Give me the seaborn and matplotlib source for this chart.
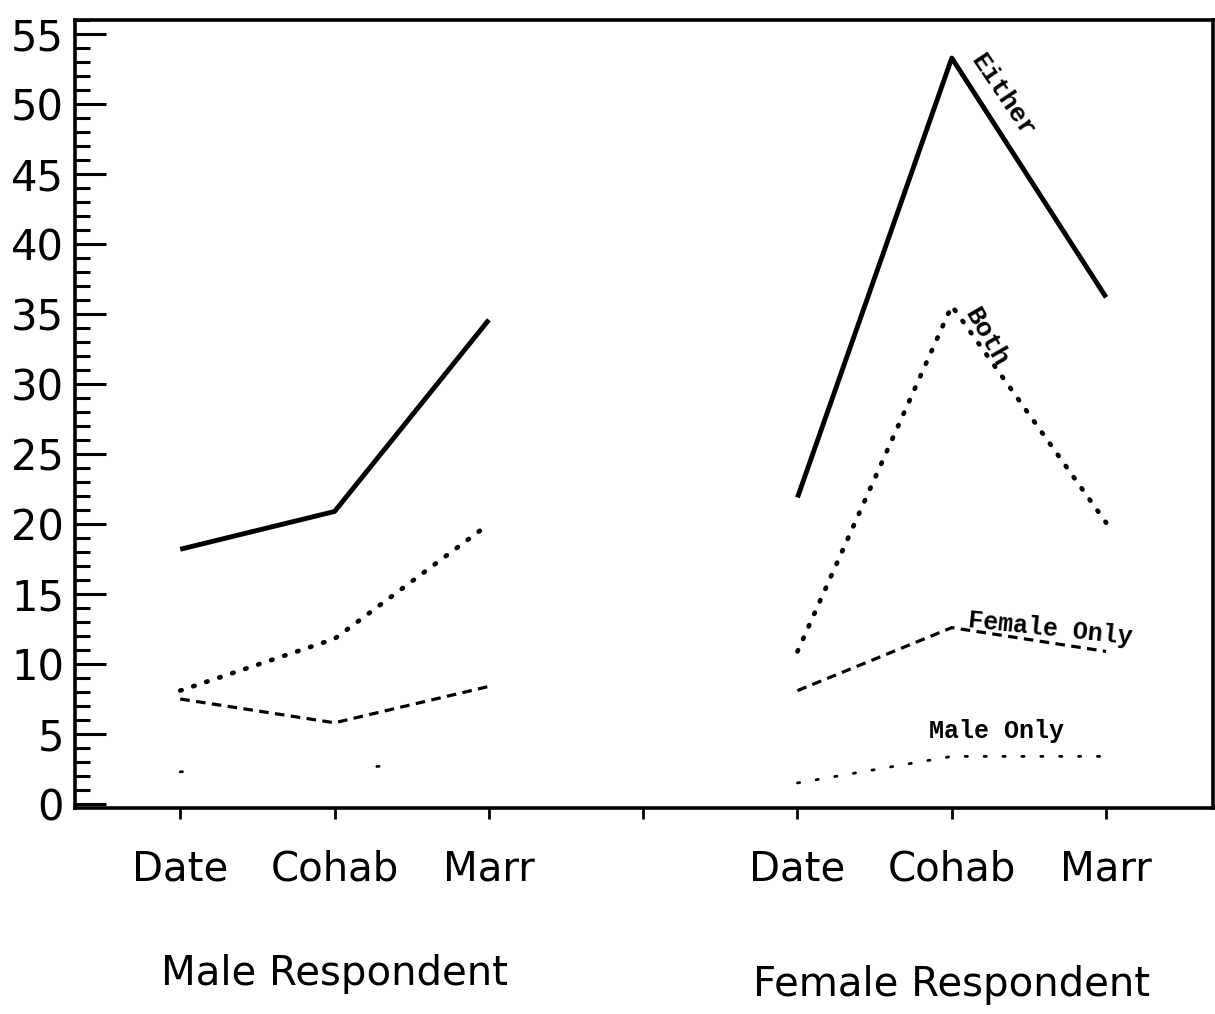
import pandas as pd
import numpy as np
import matplotlib.pyplot as plt
import seaborn as sns
from matplotlib.ticker import MultipleLocator

# values (percent)
stages = ["Date", "Cohab", "Marr"]
male_pos = [1, 2, 3]
female_pos = [5, 6, 7]

male_either = [18.2, 20.9, 34.6]
male_both = [8.1, 11.8, 20.0]
male_female_only = [7.5, 5.8, 8.4]
male_male_only = [2.3, 2.6, 2.9]

female_either = [21.9, 53.3, 36.2]
female_both = [10.9, 35.6, 20.1]
female_female_only = [8.1, 12.6, 10.9]
female_male_only = [1.5, 3.4, 3.4]

styles = {
    "Either": dict(linestyle="-", linewidth=3.5, solid_capstyle="butt"),
    "Both": dict(linestyle=(0, (0.3, 2.6)), linewidth=3.4, dash_capstyle="round"),
    "Female Only": dict(linestyle=(0, (3.0, 2.0)), linewidth=2.3),
    "Male Only": dict(linestyle=(0, (0.8, 6.0)), linewidth=2.0, dash_capstyle="round"),
}

rows = []
for grp, pos, series in [
    ("Male", male_pos, {"Either": male_either, "Both": male_both,
                        "Female Only": male_female_only, "Male Only": male_male_only}),
    ("Female", female_pos, {"Either": female_either, "Both": female_both,
                            "Female Only": female_female_only, "Male Only": female_male_only}),
]:
    for name, vals in series.items():
        for p, v in zip(pos, vals):
            rows.append({"group": grp, "series": name, "x": p, "pct": v})
df = pd.DataFrame(rows)

sns.set_style("ticks")
plt.rcParams['font.family'] = ['DejaVu Sans']
plt.rcParams.update({"text.color": "black", "xtick.color": "black",
                     "ytick.color": "black", "axes.labelcolor": "black"})

fig = plt.figure(figsize=(12.15, 10.14), dpi=100)
ax = fig.add_axes([0.062, 0.203, 0.936, 0.777])

for (grp, name), d in df.groupby(["group", "series"]):
    kw = dict(styles[name])
    if grp == "Male" and name == "Male Only":
        kw["linestyle"] = (0, (0.8, 70.0))
    sns.lineplot(data=d, x="x", y="pct", ax=ax, color="black", **kw)

ax.set_xlim(0.32, 7.69)
ax.set_ylim(-0.3, 56)
ax.set_xlabel("")
ax.set_ylabel("")

ax.set_xticks([1, 2, 3, 4, 5, 6, 7])
ax.set_xticklabels(stages + [""] + stages, fontsize=29)
ax.yaxis.set_major_locator(MultipleLocator(5))
ax.yaxis.set_minor_locator(MultipleLocator(1))
ax.tick_params(axis="y", which="major", direction="in", length=22, width=2.2,
               labelsize=30, pad=8)
ax.tick_params(axis="y", which="minor", direction="in", length=11, width=2.2)
ax.tick_params(axis="x", direction="out", length=8, width=2, pad=22)

for s in ax.spines.values():
    s.set_visible(True)
    s.set_linewidth(2.6)
    s.set_color("black")

tr = ax.get_xaxis_transform()
ax.text(2, -0.21, "Male Respondent", transform=tr, ha="center", va="center", fontsize=29)
ax.text(6, -0.225, "Female Respondent", transform=tr, ha="center", va="center", fontsize=29)

mono = dict(family="Liberation Mono", weight="bold", color="black", ha="center", va="center")
ax.text(6.33, 50.6, "Either", rotation=-56, fontsize=19, **mono)
ax.text(6.22, 33.4, "Both", rotation=-60, fontsize=19, **mono)
ax.text(6.64, 12.5, "Female Only", rotation=-6, fontsize=18, **mono)
ax.text(6.29, 5.2, "Male Only", rotation=0, fontsize=18, **mono)

fig.savefig("out.png", dpi=100)
